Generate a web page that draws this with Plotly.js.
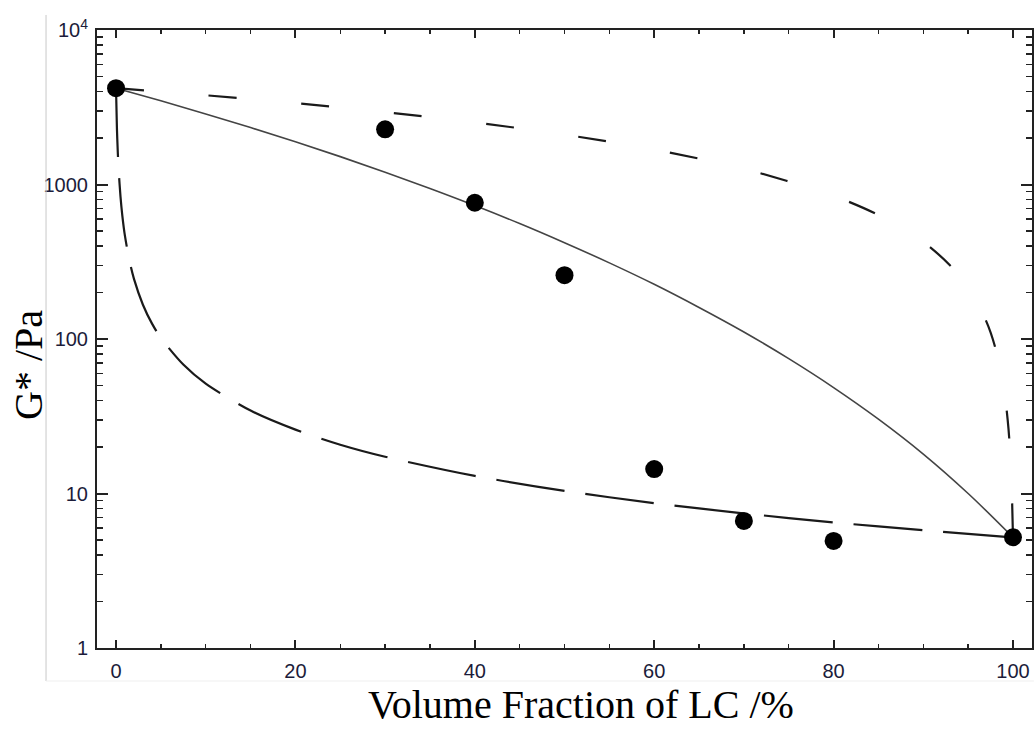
<!DOCTYPE html>
<html>
<head>
<meta charset="utf-8">
<script src="https://cdn.plot.ly/plotly-3.0.1.min.js"></script>
<style>html,body{margin:0;padding:0;background:#fff;}#chart{width:1034px;height:729px;}</style>
</head>
<body>
<div id="chart"></div>
<script>
// Measured data points (volume fraction of LC in %, G* in Pa)
var pointX = [0, 30, 40, 50, 60, 70, 80, 100];
var pointY = [4200, 2275, 762, 259, 14.4, 6.64, 4.93, 5.21];

// Upper dashed curve
var upperX = [0, 5, 10, 20, 30, 40, 50, 60, 70, 80, 85, 90, 93, 95, 97, 98, 99, 99.5, 99.8, 100];
var upperY = [4200, 3990, 3781, 3361, 2942, 2522, 2103, 1683, 1264, 844, 634, 425, 299, 215, 131, 89, 47.1, 26.2, 13.6, 5.2];

// Lower long-dashed curve
var lowerX = [0, 0.1, 0.2, 0.3, 0.5, 0.7, 1, 1.5, 2, 3, 4, 5, 7.5, 10, 15, 20, 25, 30, 40, 50, 60, 70, 80, 90, 100];
var lowerY = [4200, 2325, 1607, 1228, 834, 632, 463, 321, 245, 166.7, 126.2, 101.6, 68.3, 51.4, 34.4, 25.9, 20.7, 17.3, 13.0, 10.4, 8.66, 7.43, 6.50, 5.78, 5.2];

// Middle solid curve
var solidX = [0, 5, 10, 15, 20, 25, 30, 35, 40, 45, 50, 55, 60, 65, 70, 75, 80, 85, 90, 95, 100];
var solidY = [4200, 3480, 2863, 2336, 1890, 1515, 1202, 943, 731, 559, 420, 311, 226, 160, 111, 74.6, 48.5, 30.3, 18.0, 10.0, 5.2];

// Tick labels
var yTickVals = [1, 10, 100, 1000, 10000];
var yTickText = ['1', '10', '100', '1000', '10<sup>4</sup>'];
var xTickVals = [0, 20, 40, 60, 80, 100];
var xTickText = ['0', '20', '40', '60', '80', '100'];

var traces = [
  {x: upperX, y: upperY, type: 'scatter', mode: 'lines', line: {color: '#1a1a1a', width: 2.2, dash: '28px,65px', shape: 'spline', smoothing: 0.8}, hoverinfo: 'skip'},
  {x: lowerX, y: lowerY, type: 'scatter', mode: 'lines', line: {color: '#1a1a1a', width: 2.2, dash: '69px,21px', shape: 'spline', smoothing: 0.8}, hoverinfo: 'skip'},
  {x: solidX, y: solidY, type: 'scatter', mode: 'lines', line: {color: '#444444', width: 1.6, shape: 'spline', smoothing: 1}, hoverinfo: 'skip'},
  {x: pointX, y: pointY, type: 'scatter', mode: 'markers', marker: {color: '#000000', size: 18}}
];

var tickFont = {family: 'Liberation Sans, Arial, sans-serif', size: 20, color: '#1c1c3a'};

var layout = {
  width: 1034, height: 729,
  margin: {l: 97, r: 2, t: 30, b: 81, pad: 0},
  paper_bgcolor: '#ffffff', plot_bgcolor: '#ffffff',
  showlegend: false,
  font: {family: 'Liberation Sans, Arial, sans-serif'},
  xaxis: {
    range: [-2.12, 102.12],
    tickmode: 'array', tickvals: xTickVals, ticktext: xTickText,
    ticks: 'inside', ticklen: 8, tickwidth: 2, tickcolor: '#222',
    minor: {ticks: 'inside', ticklen: 4, tickwidth: 1.5, tickcolor: '#222', dtick: 5, tick0: 0},
    showline: true, linewidth: 2, linecolor: '#222', mirror: 'ticks',
    showgrid: false, zeroline: false,
    tickfont: tickFont, ticklabelstandoff: 4
  },
  yaxis: {
    type: 'log', range: [0, 4],
    tickmode: 'array', tickvals: yTickVals, ticktext: yTickText,
    ticks: 'inside', ticklen: 11, tickwidth: 2, tickcolor: '#222',
    minor: {ticks: 'inside', ticklen: 6, tickwidth: 1.5, tickcolor: '#222', dtick: 'D1'},
    showline: true, linewidth: 2, linecolor: '#222', mirror: 'ticks',
    showgrid: false, zeroline: false,
    tickfont: tickFont, ticklabelstandoff: 3
  },
  shapes: [
    {type: 'line', xref: 'paper', yref: 'paper', x0: -0.0545, x1: -0.0545, y0: -0.0534, y1: 1.0243, line: {color: '#c8c8c8', width: 1}},
    {type: 'line', xref: 'paper', yref: 'paper', x0: -0.0545, x1: 1.002, y0: -0.0534, y1: -0.0534, line: {color: '#efefef', width: 1}}
  ],
  annotations: [
    {text: 'Volume Fraction of LC /%', xref: 'paper', yref: 'paper', x: 0.518, y: -0.0922, xanchor: 'center', yanchor: 'middle', showarrow: false,
     font: {family: 'Liberation Serif, Times New Roman, serif', size: 40, color: '#000'}},
    {text: 'G* /Pa', xref: 'paper', yref: 'paper', x: -0.0727, y: 0.458, xanchor: 'center', yanchor: 'middle', textangle: -90, showarrow: false,
     font: {family: 'Liberation Serif, Times New Roman, serif', size: 40, color: '#000'}}
  ]
};

Plotly.newPlot('chart', traces, layout, {displayModeBar: false, staticPlot: true});
</script>
</body>
</html>
